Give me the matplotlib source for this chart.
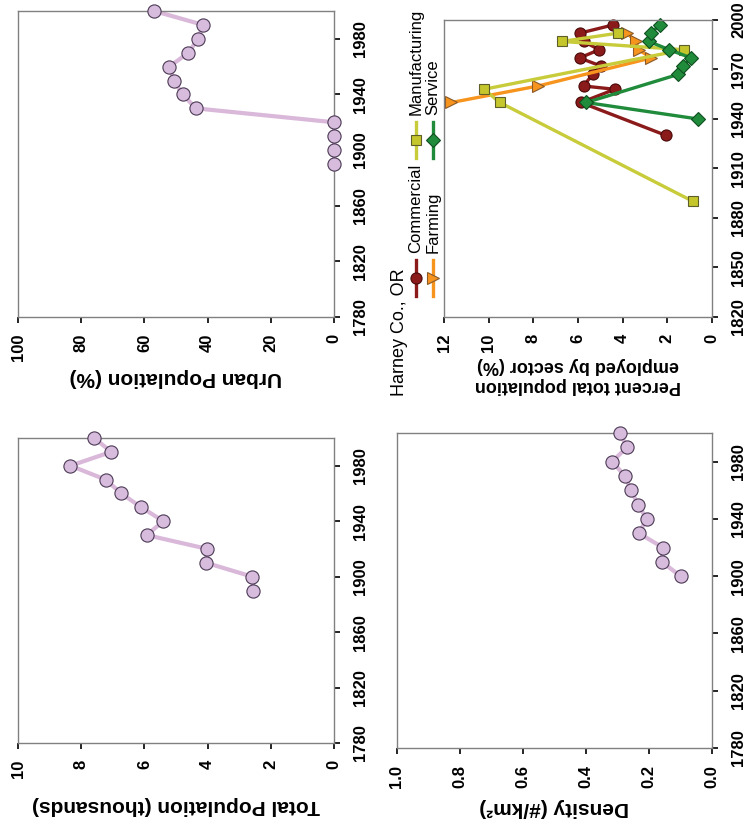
import matplotlib
matplotlib.use("Agg")
import matplotlib.pyplot as plt

plt.rcParams['font.family'] = ['Liberation Sans', 'DejaVu Sans']
plt.rcParams['font.weight'] = 'bold'

W, H = 751, 825

# ---- population data (Harney Co., OR) ----
pop_years = [1890, 1900, 1910, 1920, 1930, 1940, 1950, 1960, 1970, 1980, 1990, 2000]
total_pop = [2.55, 2.59, 4.05, 4.01, 5.93, 5.40, 6.10, 6.73, 7.23, 8.34, 7.05, 7.59]
urban_pct = [0, 0, 0, 0, 43.7, 47.9, 50.6, 52.1, 46.1, 43.0, 41.4, 56.9]
dens_years = [1900, 1910, 1920, 1930, 1940, 1950, 1960, 1970, 1980, 1990, 2000]
density = [0.100, 0.159, 0.156, 0.232, 0.207, 0.235, 0.257, 0.276, 0.317, 0.270, 0.292]

# ---- employment by sector (%) ----
comm_years = [1930, 1950, 1958, 1960, 1967, 1972, 1977, 1982, 1987, 1992, 1997]
comm = [2.05, 5.87, 4.35, 5.75, 5.35, 4.95, 5.93, 5.05, 5.75, 5.93, 4.43]
farm_years = [1950, 1960, 1977, 1982, 1987, 1992]
farm = [11.67, 7.79, 2.72, 3.29, 3.40, 3.81]
mfg_years = [1890, 1950, 1958, 1982, 1987, 1992]
mfg = [0.84, 9.50, 10.21, 1.26, 6.72, 4.22]
serv_years = [1940, 1950, 1967, 1972, 1977, 1982, 1987, 1992, 1997]
serv = [0.62, 5.63, 1.52, 1.31, 0.93, 1.92, 2.82, 2.74, 2.34]

sector_names = ["Commercial", "Farming", "Manufacturing", "Service"]

POP_LINE = "#D9B8DA"
POP_FACE = "#D8BCDD"
POP_EDGE = "#4B3A55"

sectors = [
    # name, years, values, line color, face, edge, marker, size
    ("Commercial", comm_years, comm, "#8B1A1A", "#8B1A1A", "#4A0A0A", "o", 8),
    ("Farming", farm_years, farm, "#F7941D", "#F7941D", "#8A5A28", ">", 9),
    ("Manufacturing", mfg_years, mfg, "#C8CC3A", "#C4C62C", "#5E5E2A", "s", 7.5),
    ("Service", serv_years, serv, "#1F8B3B", "#1F8B3B", "#0F4F1F", "D", 7),
]


def rect(x0, y0, x1, y1):
    return [x0 / W, 1 - y1 / H, (x1 - x0) / W, (y1 - y0) / H]


def style(ax, vmax, vticks, ylo, yticks, label, lsize, gap):
    ax.set_xlim(vmax, 0)
    ax.set_ylim(ylo, 2000)
    ax.set_xticks(vticks)
    ax.set_yticks(yticks)
    ax.yaxis.tick_right()
    ax.tick_params(axis='both', direction='out', length=4, width=1.2,
                   color='black', labelsize=12)
    ax.tick_params(axis='x', pad=8, labelrotation=90)
    ax.tick_params(axis='y', pad=10, labelrotation=90)
    for lab in ax.get_yticklabels():
        lab.set_va('center')
    for s in ax.spines.values():
        s.set_color('#808080')
        s.set_linewidth(1)
    ax.set_xlabel(label, rotation=180, fontsize=lsize, fontweight='bold')
    h = ax.get_position().height * H
    ax.xaxis.set_label_coords(0.5, -gap / h)


def pop_plot(ax, years, vals):
    ax.plot(vals, years, color=POP_LINE, lw=3, zorder=2, clip_on=False)
    ax.plot(vals, years, ls='none', marker='o', ms=9.5, mfc=POP_FACE,
            mec=POP_EDGE, mew=0.8, zorder=3, clip_on=False)


fig = plt.figure(figsize=(W / 100, H / 100), dpi=100)

ax_urb = fig.add_axes(rect(18, 11, 334, 317))
pop_plot(ax_urb, pop_years, urban_pct)
style(ax_urb, 100, [0, 20, 40, 60, 80, 100], 1780, range(1780, 2000, 40),
      "Urban Population (%)", 15, 51)

ax_tot = fig.add_axes(rect(18, 438, 334, 743))
pop_plot(ax_tot, pop_years, total_pop)
style(ax_tot, 10, [0, 2, 4, 6, 8, 10], 1780, range(1780, 2000, 40),
      "Total Population (thousands)", 15, 53)

ax_den = fig.add_axes(rect(397, 433, 712, 748))
pop_plot(ax_den, dens_years, density)
style(ax_den, 1.0, [0.0, 0.2, 0.4, 0.6, 0.8, 1.0], 1780, range(1780, 2000, 40),
      "Density (#/km²)", 15, 50)
ax_den.set_xticklabels(["0.0", "0.2", "0.4", "0.6", "0.8", "1.0"])

ax_emp = fig.add_axes(rect(444, 20, 712, 317))
for name, yrs, vals, lc, fc, ec, mk, ms in sectors:
    ax_emp.plot(vals, yrs, color=lc, lw=2.4, marker=mk, ms=ms, mfc=fc,
                mec=ec, mew=0.8, clip_on=False)
style(ax_emp, 12, range(0, 13, 2), 1820, range(1820, 2001, 30),
      "Percent total population\nemployed by sector (%)", 13, 40)

# ---- legend, drawn by hand so it can be rotated like the rest ----
lg = fig.add_axes([0, 0, 1, 1], zorder=5)
lg.set_xlim(0, W)
lg.set_ylim(H, 0)
lg.axis('off')
lg.text(400, 396, "Harney Co., OR", rotation=90, ha='center', va='bottom',
        fontsize=13, fontweight='normal')
leg_pos = {"Commercial": (416, 278, 253), "Farming": (433, 278, 253),
           "Manufacturing": (416, 140, 115), "Service": (433, 140, 115)}
for name, yrs, vals, lc, fc, ec, mk, ms in sectors:
    lx, my, ty = leg_pos[name]
    lg.plot([lx, lx], [my - 18, my + 18], color=lc, lw=2.4)
    lg.plot([lx], [my], marker=mk, ms=ms, mfc=fc, mec=ec, mew=0.8, ls='none')
    lg.text(lx, ty, name, rotation=90, ha='center', va='bottom',
            fontsize=12, fontweight='normal')

fig.savefig("out.png", dpi=100)
